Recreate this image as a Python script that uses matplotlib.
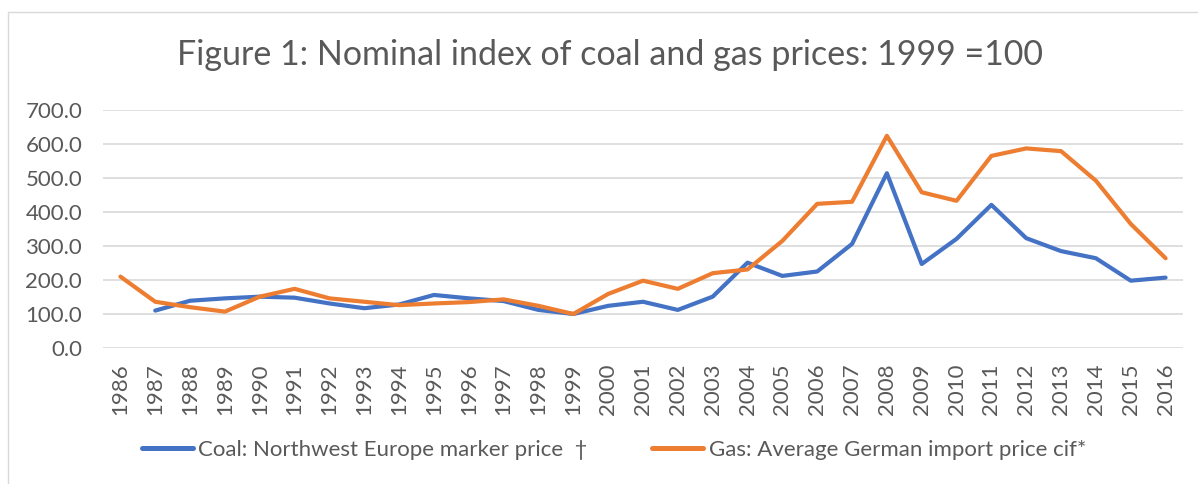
import matplotlib
matplotlib.use("Agg")
import matplotlib.pyplot as plt
from matplotlib.patches import Rectangle
import numpy as np

years = [str(y) for y in range(1986, 2017)]
coal = [np.nan, 110, 139, 146, 151, 148, 131, 117, 128, 156, 146, 138, 112, 100,
        124, 136, 112, 151, 251, 212, 225, 306, 514, 247, 321, 421, 323, 285, 264, 198, 207]
gas = [210, 136, 120, 107, 151, 174, 146, 136, 126, 131, 135, 143, 124, 100,
       159, 198, 174, 220, 231, 315, 424, 430, 624, 458, 433, 565, 587, 579, 492, 365, 264]
yticks = [0, 100, 200, 300, 400, 500, 600, 700]
title = "Figure 1: Nominal index of coal and gas prices: 1999 =100"
coal_label = "Coal: Northwest Europe marker price  \u2020"
gas_label = "Gas: Average German import price cif*"

W, H = 1198, 484
plt.rcParams['font.family'] = ['Lato', 'DejaVu Sans']
fig = plt.figure(figsize=(W / 100, H / 100), dpi=100)
fig.patch.set_facecolor('white')

# outer chart frame
fig.patches.append(Rectangle((8 / W, -0.1), 1.2, (H - 12) / H + 0.1,
                             transform=fig.transFigure, fill=False,
                             edgecolor='#d9d9d9', linewidth=1))

ax = fig.add_axes([103 / W, (H - 348) / H, (1183 - 103) / W, (348 - 110) / H])
x = np.arange(len(years))
l1, = ax.plot(x, coal, color='#4472C4', linewidth=3.0, solid_capstyle='round',
              solid_joinstyle='round', label=coal_label)
l2, = ax.plot(x, gas, color='#ED7D31', linewidth=3.0, solid_capstyle='round',
              solid_joinstyle='round', label=gas_label)

ax.set_xlim(-0.5, len(years) - 0.5)
ax.set_ylim(0, 700)
ax.set_yticks(yticks)
ax.set_yticklabels([f"{v:.1f}" for v in yticks])
ax.set_xticks(x)
ax.set_xticklabels(years, rotation=90)
ax.grid(axis='y', color='#d9d9d9', linewidth=1.2)
ax.set_axisbelow(True)
for s in ax.spines.values():
    s.set_visible(False)
ax.tick_params(axis='both', length=0, colors='#595959', labelsize=16)
ax.tick_params(axis='y', pad=15)
ax.tick_params(axis='x', pad=11)

fig.text(610 / W, 1 - 55 / H, title, ha='center', va='center',
         fontsize=24.5, color='#595959')

leg = fig.legend(handles=[l1, l2], loc='center', bbox_to_anchor=(614 / W, 1 - 450 / H),
                 ncol=2, frameon=False, fontsize=16, handlelength=2.3,
                 handletextpad=0.25, columnspacing=2.9, labelcolor='#595959')
for h in leg.legend_handles:
    h.set_linewidth(3.6)

fig.savefig('out.png', dpi=100, facecolor='white')
